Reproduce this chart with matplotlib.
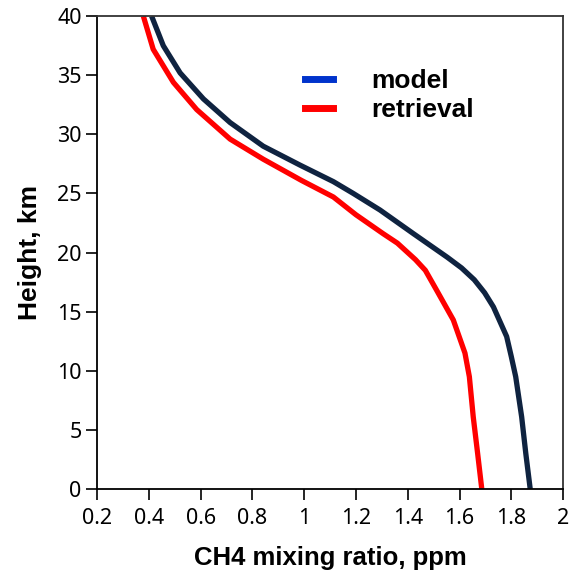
import matplotlib
matplotlib.use("Agg")
import matplotlib.pyplot as plt
from matplotlib.lines import Line2D

model_height = [0, 3, 6.1, 9.5, 11.2, 12.9, 15.4, 16.6, 17.7, 18.7, 19.6, 21.6, 23.6, 25.0, 26.0, 27.4, 29.0, 31.0, 33.0, 35.2, 37.5, 40]
model = [1.873, 1.856, 1.840, 1.817, 1.80, 1.782, 1.731, 1.697, 1.657, 1.608, 1.553, 1.422, 1.293, 1.19, 1.113, 0.984, 0.842, 0.714, 0.611, 0.521, 0.456, 0.411]
retr_height = [0, 3, 6.1, 9.5, 11.5, 14.3, 16.8, 18.5, 19.4, 20.8, 21.6, 23.2, 24.7, 26.1, 27.9, 29.6, 32.1, 34.4, 37.2, 40]
retrieval = [1.686, 1.670, 1.653, 1.638, 1.621, 1.576, 1.512, 1.468, 1.43, 1.36, 1.305, 1.20, 1.113, 0.99, 0.842, 0.714, 0.585, 0.495, 0.417, 0.379]
xticks = [0.2, 0.4, 0.6, 0.8, 1, 1.2, 1.4, 1.6, 1.8, 2]
xticklabels = ["0.2", "0.4", "0.6", "0.8", "1", "1.2", "1.4", "1.6", "1.8", "2"]
yticks = [0, 5, 10, 15, 20, 25, 30, 35, 40]

fig = plt.figure(figsize=(5.74, 5.77), dpi=100)
ax = fig.add_axes([0.169, 0.1525, 0.812, 0.8195])
ax.plot(model, model_height, color="#0f2340", lw=3.8, solid_capstyle="butt", solid_joinstyle="round")
ax.plot(retrieval, retr_height, color="#ff0000", lw=3.8, solid_capstyle="butt", solid_joinstyle="round")
ax.set_xlim(0.2, 2)
ax.set_ylim(0, 40)
ax.set_xticks(xticks)
ax.set_xticklabels(xticklabels)
ax.set_yticks(yticks)
ax.tick_params(axis="both", labelsize=15.5, length=8, width=1.2, direction="out")
ax.tick_params(axis="x", pad=6)
ax.tick_params(axis="y", pad=3)
for lab in ax.get_xticklabels() + ax.get_yticklabels():
    lab.set_family("Noto Sans")
for s in ["left", "bottom"]:
    ax.spines[s].set_linewidth(1.3)
for s in ["top", "right"]:
    ax.spines[s].set_linewidth(1.3)
    ax.spines[s].set_color("#333333")
ax.set_xlabel("CH4 mixing ratio, ppm", fontsize=18.5, fontweight="bold",
              family="Liberation Sans")
ax.xaxis.set_label_coords(0.5, -0.121)
ax.set_ylabel("Height, km", fontsize=19, fontweight="bold",
              family="Liberation Sans")
ax.yaxis.set_label_coords(-0.117, 0.5)

handles = [Line2D([], [], color="#0033cc", lw=5),
           Line2D([], [], color="#ff0000", lw=5)]
ax.legend(handles, ["model", "retrieval"], loc="upper left",
          bbox_to_anchor=(0.446, 0.888), frameon=False, handlelength=1.08,
          handletextpad=1.45, labelspacing=0.2, borderaxespad=0, borderpad=0,
          prop={"family": "Liberation Sans", "weight": "bold", "size": 19})

fig.savefig("out.png", dpi=100)
